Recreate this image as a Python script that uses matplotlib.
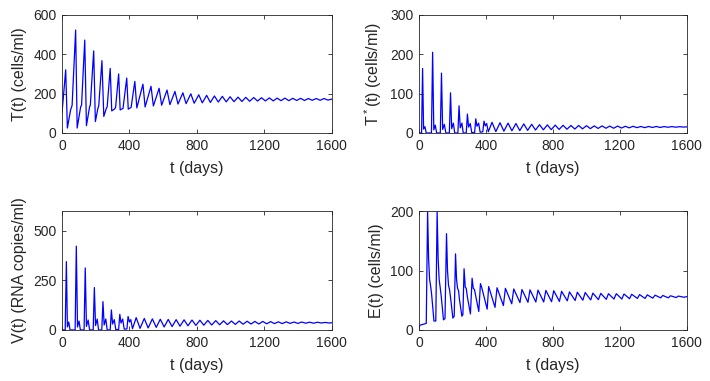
import matplotlib
matplotlib.use("Agg")
import matplotlib.pyplot as plt

# (day, value) turning points
T_pts = [(0, 100), (22, 321), (32, 25), (51, 117), (60, 140), (81, 523), (90, 25),
         (111, 134), (116, 140), (135, 472), (145, 37), (164, 134), (168, 140),
         (188, 417), (198, 58), (213, 125), (218, 138), (237, 367), (248, 84),
         (263, 125), (268, 133), (286, 328), (295, 112), (312, 122), (318, 130),
         (336, 300), (345, 117), (362, 125), (384, 279), (393, 121), (410, 130),
         (432, 262), (444, 127), (480, 248), (493, 132), (528, 237), (542, 137),
         (576, 227), (591, 141), (623, 218), (640, 144), (670, 211), (688, 147),
         (717, 204), (736, 149), (764, 199), (784, 151), (811, 194), (832, 153),
         (858, 191), (880, 155), (904, 188), (927, 157), (951, 186), (974, 158),
         (997, 184), (1020, 159), (1044, 182), (1067, 160), (1090, 181), (1113, 161),
         (1137, 180), (1160, 162), (1183, 179), (1206, 163), (1230, 178), (1253, 163),
         (1276, 177), (1299, 164), (1322, 177), (1345, 164), (1369, 176), (1392, 165),
         (1415, 176), (1438, 165), (1461, 175), (1484, 166), (1508, 175), (1531, 166),
         (1554, 175), (1577, 167), (1600, 172)]

Tstar_pts = [(0, 0), (16, 0), (22, 164), (28, 10), (36, 16), (44, 0), (75, 0), (82, 205),
             (89, 8), (98, 20), (106, 0), (128, 0), (135, 152), (142, 9), (152, 22),
             (161, 0), (182, 0), (189, 102), (196, 11), (206, 25), (214, 0), (233, 0),
             (240, 69), (247, 13), (257, 25), (265, 0), (283, 0), (290, 48), (297, 15),
             (307, 24), (316, 1), (333, 1), (340, 36), (347, 17), (357, 25), (366, 2),
             (382, 3), (389, 30), (397, 18), (405, 24), (415, 3), (437, 27), (460, 3.5),
             (485, 26), (508, 4.5), (533, 25), (556, 5.5), (580, 24), (603, 6), (627, 23),
             (650, 6.5), (674, 22), (697, 7.5), (721, 21), (744, 8), (768, 20.5),
             (791, 8.5), (815, 20), (838, 9), (862, 19.5), (885, 9.5), (909, 19),
             (932, 10), (955, 19), (978, 10.5), (1002, 18.5), (1025, 11), (1048, 18),
             (1071, 11.5), (1095, 18), (1118, 12), (1141, 17.5), (1164, 12), (1188, 17.5),
             (1211, 12.5), (1234, 17), (1257, 13), (1280, 17), (1303, 13.5), (1327, 16.5),
             (1350, 13.5), (1373, 16.5), (1396, 14), (1419, 16.5), (1442, 14),
             (1466, 16.3), (1489, 14.5), (1512, 16.2), (1535, 14.7), (1558, 16),
             (1581, 15), (1600, 15.5)]

V_pts = [(0, 0), (19, 0), (26, 345), (32, 15), (40, 40), (48, 0), (78, 0), (85, 423),
         (92, 15), (101, 45), (109, 0), (131, 0), (138, 313), (145, 18), (155, 50),
         (164, 0), (185, 0), (192, 214), (199, 22), (209, 55), (217, 0), (236, 0),
         (243, 143), (250, 25), (260, 55), (268, 0), (286, 0), (293, 101), (300, 30),
         (310, 52), (319, 2), (336, 2), (343, 79), (350, 35), (360, 55), (369, 4),
         (385, 5), (392, 68), (400, 40), (408, 52), (418, 6), (440, 62), (463, 8),
         (488, 58), (511, 10), (536, 56), (559, 13), (583, 54), (606, 15), (630, 53),
         (653, 17), (677, 52), (700, 19), (724, 51), (747, 21), (771, 50), (794, 23),
         (818, 49), (841, 24), (865, 48), (888, 25), (912, 47), (935, 26), (958, 46),
         (981, 27), (1005, 45), (1028, 28), (1051, 45), (1074, 29), (1098, 44),
         (1121, 30), (1144, 43), (1167, 30), (1191, 43), (1214, 31), (1237, 42),
         (1260, 32), (1283, 41), (1306, 32), (1330, 41), (1353, 33), (1376, 40),
         (1399, 33), (1422, 40), (1445, 34), (1469, 39), (1492, 34), (1515, 39),
         (1538, 35), (1561, 38), (1584, 35), (1600, 36.5)]

E_pts = [(0, 3), (6, 8), (44, 11), (52, 199), (58, 120), (64, 85), (70, 74), (76, 60),
         (90, 15), (101, 15), (109, 199), (115, 120), (121, 85), (127, 72), (133, 58),
         (147, 17), (156, 19), (165, 162), (171, 100), (177, 75), (183, 68), (189, 55),
         (203, 20), (211, 23), (219, 128), (225, 85), (231, 70), (237, 66), (243, 50),
         (257, 23), (263, 26), (270, 103), (277, 72), (283, 70), (290, 55), (308, 27),
         (318, 87), (325, 70), (332, 68), (358, 31), (368, 78), (375, 72), (408, 35),
         (417, 73), (455, 38), (467, 71), (505, 41), (517, 70), (555, 44), (567, 69),
         (604, 46), (616, 68), (652, 46.5), (664, 67.5), (699, 47), (712, 67),
         (746, 47), (759, 66.5), (793, 47.5), (806, 66), (840, 48), (853, 65),
         (887, 49), (900, 64), (934, 49.5), (947, 63.5), (980, 50), (994, 63),
         (1027, 50.5), (1040, 62), (1073, 51), (1087, 61.5), (1120, 51.5), (1133, 61),
         (1166, 52), (1180, 61), (1213, 52), (1226, 60.5), (1259, 52.5), (1272, 60),
         (1306, 53), (1319, 59.5), (1352, 53), (1365, 59), (1398, 53.5), (1412, 58.5),
         (1445, 54), (1458, 58), (1491, 54), (1504, 57.5), (1538, 54.5), (1551, 57),
         (1584, 55), (1600, 56)]

xticks = [0, 400, 800, 1200, 1600]
panels = [
    (T_pts, "T(t) (cells/ml)", [0, 200, 400, 600], 600),
    (Tstar_pts, r"T$^*$(t) (cells/ml)", [0, 100, 200, 300], 300),
    (V_pts, "V(t) (RNA copies/ml)", [0, 250, 500], 600),
    (E_pts, "E(t) (cells/ml)", [0, 100, 200], 200),
]
positions = [[0.0873, 0.651, 0.380, 0.310], [0.590, 0.651, 0.377, 0.310],
             [0.0873, 0.134, 0.380, 0.312], [0.590, 0.134, 0.377, 0.312]]

plt.rcParams['font.family'] = ['Liberation Sans', 'DejaVu Sans']
plt.rcParams['mathtext.fontset'] = 'custom'
plt.rcParams['mathtext.rm'] = 'Liberation Sans'

fig = plt.figure(figsize=(7.1, 3.81), dpi=100)
for (pts, ylab, yt, ymax), pos in zip(panels, positions):
    ax = fig.add_axes(pos)
    x = [p[0] for p in pts]
    y = [p[1] for p in pts]
    ax.plot(x, y, color='#0000ff', linewidth=0.9)
    ax.set_xlim(0, 1600)
    ax.set_ylim(0, ymax)
    ax.set_xticks(xticks)
    ax.set_yticks(yt)
    ax.tick_params(direction='in', length=3, width=0.6, top=True, right=True,
                   labelsize=10, colors='#262626', pad=4)
    for s in ax.spines.values():
        s.set_linewidth(0.6)
        s.set_color('#262626')
    ax.set_xlabel("t (days)", fontsize=11.5, color='#262626', labelpad=6)
    ax.set_ylabel(ylab, fontsize=11.5, color='#262626', labelpad=4)

fig.savefig("out.png", dpi=100)
